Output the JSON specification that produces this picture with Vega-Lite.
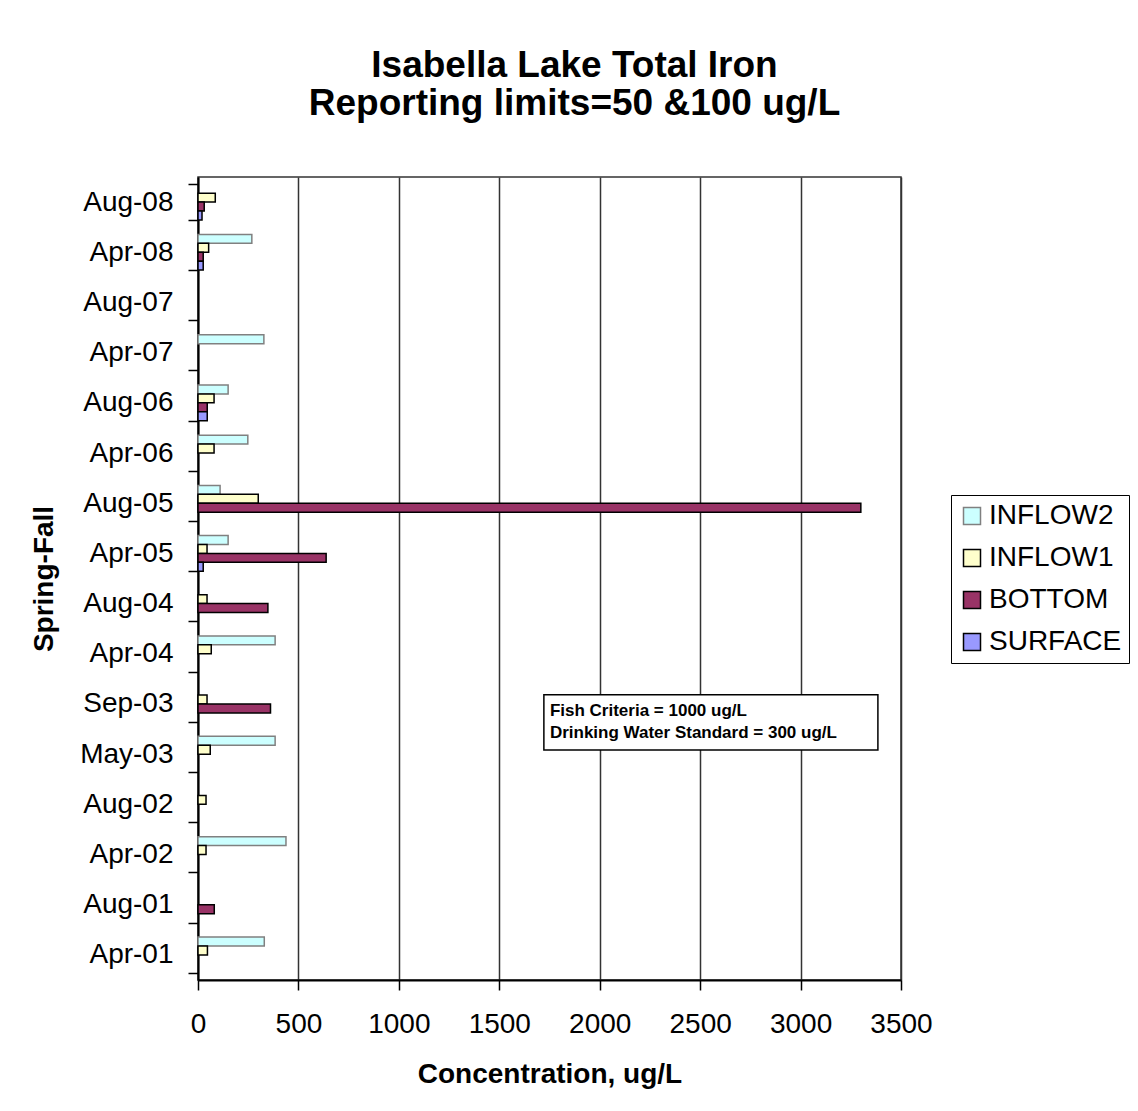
{
  "$schema": "https://vega.github.io/schema/vega-lite/v6.json",
  "width": 703,
  "height": 803,
  "autosize": {"type": "none"},
  "padding": {"left": 198, "top": 177, "right": 237, "bottom": 131},
  "background": "white",
  "title": {
    "text": ["Isabella Lake Total Iron", "Reporting limits=50 &100 ug/L"],
    "fontSize": 37,
    "fontWeight": "bold",
    "font": "Liberation Sans",
    "lineHeight": 38,
    "anchor": "middle",
    "dx": 25,
    "offset": 40,
    "color": "black"
  },
  "config": {
    "font": "Liberation Sans",
    "view": {"stroke": "#333333", "strokeWidth": 1.5}
  },
  "layer": [
    {
      "data": {
        "values": [
          {"date": "Aug-08", "series": "INFLOW1", "value": 86},
          {"date": "Aug-08", "series": "BOTTOM", "value": 31},
          {"date": "Aug-08", "series": "SURFACE", "value": 20},
          {"date": "Apr-08", "series": "INFLOW2", "value": 268},
          {"date": "Apr-08", "series": "INFLOW1", "value": 53},
          {"date": "Apr-08", "series": "BOTTOM", "value": 26},
          {"date": "Apr-08", "series": "SURFACE", "value": 26},
          {"date": "Apr-07", "series": "INFLOW2", "value": 328},
          {"date": "Aug-06", "series": "INFLOW2", "value": 150},
          {"date": "Aug-06", "series": "INFLOW1", "value": 80},
          {"date": "Aug-06", "series": "BOTTOM", "value": 46},
          {"date": "Aug-06", "series": "SURFACE", "value": 46},
          {"date": "Apr-06", "series": "INFLOW2", "value": 248},
          {"date": "Apr-06", "series": "INFLOW1", "value": 80},
          {"date": "Aug-05", "series": "INFLOW2", "value": 110},
          {"date": "Aug-05", "series": "INFLOW1", "value": 300},
          {"date": "Aug-05", "series": "BOTTOM", "value": 3300},
          {"date": "Apr-05", "series": "INFLOW2", "value": 150},
          {"date": "Apr-05", "series": "INFLOW1", "value": 45},
          {"date": "Apr-05", "series": "BOTTOM", "value": 638},
          {"date": "Apr-05", "series": "SURFACE", "value": 26},
          {"date": "Aug-04", "series": "INFLOW1", "value": 45},
          {"date": "Aug-04", "series": "BOTTOM", "value": 348},
          {"date": "Apr-04", "series": "INFLOW2", "value": 384},
          {"date": "Apr-04", "series": "INFLOW1", "value": 66},
          {"date": "Sep-03", "series": "INFLOW1", "value": 45},
          {"date": "Sep-03", "series": "BOTTOM", "value": 361},
          {"date": "May-03", "series": "INFLOW2", "value": 384},
          {"date": "May-03", "series": "INFLOW1", "value": 61},
          {"date": "Aug-02", "series": "INFLOW1", "value": 40},
          {"date": "Apr-02", "series": "INFLOW2", "value": 438},
          {"date": "Apr-02", "series": "INFLOW1", "value": 40},
          {"date": "Aug-01", "series": "BOTTOM", "value": 81},
          {"date": "Apr-01", "series": "INFLOW2", "value": 330},
          {"date": "Apr-01", "series": "INFLOW1", "value": 47}
        ]
      },
      "mark": {"type": "bar", "strokeWidth": 1.5},
      "encoding": {
        "y": {
          "field": "date",
          "type": "nominal",
          "title": "Spring-Fall",
          "sort": ["Aug-08", "Apr-08", "Aug-07", "Apr-07", "Aug-06", "Apr-06", "Aug-05", "Apr-05", "Aug-04", "Apr-04", "Sep-03", "May-03", "Aug-02", "Apr-02", "Aug-01", "Apr-01"],
          "scale": {
            "domain": ["Aug-08", "Apr-08", "Aug-07", "Apr-07", "Aug-06", "Apr-06", "Aug-05", "Apr-05", "Aug-04", "Apr-04", "Sep-03", "May-03", "Aug-02", "Apr-02", "Aug-01", "Apr-01"],
            "paddingInner": 0.29,
            "paddingOuter": 0.145
          },
          "axis": {
            "title": "Spring-Fall",
            "titleFontSize": 28,
            "titleFontWeight": "bold",
            "titleColor": "black",
            "titlePadding": 21,
            "labelFontSize": 28,
            "labelColor": "black",
            "labelPadding": 15,
            "labelOverlap": false,
            "tickSize": 10,
            "tickColor": "black",
            "tickWidth": 1.5,
            "domainColor": "black",
            "domainWidth": 2,
            "tickBand": "extent",
            "grid": false
          }
        },
        "yOffset": {
          "field": "series",
          "type": "nominal",
          "scale": {"domain": ["INFLOW2", "INFLOW1", "BOTTOM", "SURFACE"]}
        },
        "x": {
          "field": "value",
          "type": "quantitative",
          "title": "Concentration, ug/L",
          "scale": {"domain": [0, 3500], "nice": false},
          "axis": {
            "title": "Concentration, ug/L",
            "values": [0, 500, 1000, 1500, 2000, 2500, 3000, 3500],
            "format": "d",
            "grid": true,
            "gridColor": "#333333",
            "gridWidth": 1.5,
            "labelFontSize": 28,
            "labelColor": "black",
            "labelPadding": 20,
            "labelFlush": false,
            "tickSize": 10,
            "tickColor": "black",
            "tickWidth": 1.5,
            "domainColor": "black",
            "domainWidth": 2,
            "titleFontSize": 28,
            "titleFontWeight": "bold",
            "titleColor": "black",
            "titlePadding": 22
          }
        },
        "fill": {
          "field": "series",
          "type": "nominal",
          "scale": {
            "domain": ["INFLOW2", "INFLOW1", "BOTTOM", "SURFACE"],
            "range": ["#CCFFFF", "#FFFFCC", "#993366", "#9999FF"]
          },
          "legend": {
            "title": null,
            "orient": "none",
            "legendX": 753,
            "legendY": 318,
            "labelFontSize": 28,
            "labelColor": "black",
            "labelFont": "Liberation Sans",
            "labelOffset": 3,
            "symbolType": "square",
            "symbolSize": 289,
            "symbolStrokeWidth": 1.5,
            "rowPadding": 14,
            "padding": 7,
            "strokeColor": "black",
            "fillColor": "white"
          }
        },
        "stroke": {
          "field": "series",
          "type": "nominal",
          "scale": {
            "domain": ["INFLOW2", "INFLOW1", "BOTTOM", "SURFACE"],
            "range": ["#808080", "#000000", "#000000", "#000000"]
          },
          "legend": {
            "title": null,
            "orient": "none",
            "legendX": 753,
            "legendY": 318,
            "labelFontSize": 28,
            "labelColor": "black",
            "labelFont": "Liberation Sans",
            "labelOffset": 3,
            "symbolType": "square",
            "symbolSize": 289,
            "symbolStrokeWidth": 1.5,
            "rowPadding": 14,
            "padding": 7,
            "strokeColor": "black",
            "fillColor": "white"
          }
        }
      }
    },
    {
      "data": {"values": [{"date": "Sep-03", "date2": "May-03", "value": 1722, "value2": 3385}]},
      "mark": {"type": "rect", "fill": "white", "stroke": "black", "strokeWidth": 1.5},
      "encoding": {
        "y": {
          "field": "date",
          "type": "nominal",
          "title": "Spring-Fall",
          "bandPosition": 0.244,
          "sort": ["Aug-08", "Apr-08", "Aug-07", "Apr-07", "Aug-06", "Apr-06", "Aug-05", "Apr-05", "Aug-04", "Apr-04", "Sep-03", "May-03", "Aug-02", "Apr-02", "Aug-01", "Apr-01"]
        },
        "y2": {"field": "date2", "bandPosition": 0.38},
        "x": {"field": "value", "type": "quantitative", "title": "Concentration, ug/L"},
        "x2": {"field": "value2"}
      }
    },
    {
      "data": {"values": [{"date": "Sep-03", "value": 1752, "note": ["Fish Criteria = 1000 ug/L", "Drinking Water Standard = 300 ug/L"]}]},
      "mark": {"type": "text", "align": "left", "baseline": "alphabetic", "fontSize": 17, "fontWeight": "bold", "lineHeight": 22, "color": "black"},
      "encoding": {
        "y": {
          "field": "date",
          "type": "nominal",
          "title": "Spring-Fall",
          "bandPosition": 0.826,
          "sort": ["Aug-08", "Apr-08", "Aug-07", "Apr-07", "Aug-06", "Apr-06", "Aug-05", "Apr-05", "Aug-04", "Apr-04", "Sep-03", "May-03", "Aug-02", "Apr-02", "Aug-01", "Apr-01"]
        },
        "x": {"field": "value", "type": "quantitative", "title": "Concentration, ug/L"},
        "text": {"field": "note"}
      }
    }
  ]
}
